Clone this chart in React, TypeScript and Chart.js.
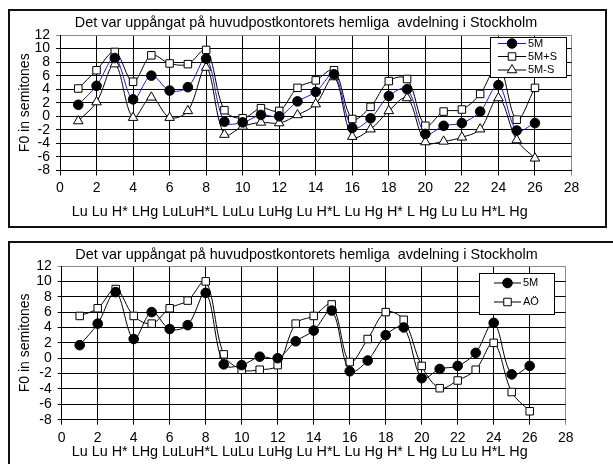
import React, { useEffect, useRef } from 'react';
import { Chart, registerables } from 'chart.js';

Chart.register(...registerables);

const FONT = '"Liberation Sans", Arial, sans-serif';

const chartTitle = 'Det var uppångat på huvudpostkontorets hemliga  avdelning i Stockholm';
const xAxisTitle = 'Lu Lu H* LHg LuLuH*L LuLu LuHg Lu H*L Lu Hg H* L Hg Lu Lu H*L Hg';
const yAxisTitle = 'F0 in semitones';

const positions = [1, 2, 3, 4, 5, 6, 7, 8, 9, 10, 11, 12, 13, 14, 15, 16, 17, 18, 19, 20, 21, 22, 23, 24, 25, 26];

const series5M = [1.7, 4.5, 8.6, 2.5, 6.0, 3.8, 4.3, 8.5, -0.8, -0.9, 0.2, 0.0, 2.2, 3.6, 6.2, -1.7, -0.3, 3.0, 4.0, -2.6, -1.4, -1.0, 0.7, 4.6, -2.1, -1.0];
const series5MplusS = [4.1, 6.8, 9.5, 5.1, 9.0, 7.8, 7.7, 9.8, 0.9, -0.3, 1.2, 0.8, 4.2, 5.3, 6.8, -0.4, 1.4, 5.2, 5.5, -1.4, 0.7, 1.0, 3.3, 7.6, -0.5, 4.2];
const series5MminusS = [-0.7, 2.1, 7.7, -0.2, 2.8, -0.2, 0.8, 7.2, -2.7, -1.5, -0.9, -1.0, 0.2, 1.8, 5.8, -3.0, -1.9, 0.8, 2.7, -3.8, -3.7, -3.1, -1.9, 2.7, -3.5, -6.2];
const seriesAO = [5.5, 6.5, 9.0, 5.5, 4.5, 6.5, 7.5, 10.0, 0.5, -1.5, -1.5, -0.9, 4.5, 5.5, 7.0, -0.5, 2.5, 6.0, 5.0, -1.0, -3.9, -2.9, -1.5, 2.0, -4.4, -6.9];

const topLabels = ['5M', '5M+S', '5M-S'];
const bottomLabels = ['5M', 'AÖ'];

const toPoints = (vals: number[]) => vals.map((v, i) => ({ x: positions[i], y: v }));

function drawMarker(ctx: CanvasRenderingContext2D, style: string, r: number, x: number, y: number) {
  ctx.beginPath();
  if (style === 'circle') {
    ctx.arc(x, y, r, 0, Math.PI * 2);
  } else if (style === 'rect') {
    const s = r * Math.SQRT1_2;
    ctx.rect(x - s, y - s, 2 * s, 2 * s);
  } else if (style === 'triangle') {
    let rad = 0;
    ctx.moveTo(x + Math.sin(rad) * r, y - Math.cos(rad) * r);
    rad += (2 * Math.PI) / 3;
    ctx.lineTo(x + Math.sin(rad) * r, y - Math.cos(rad) * r);
    rad += (2 * Math.PI) / 3;
    ctx.lineTo(x + Math.sin(rad) * r, y - Math.cos(rad) * r);
    ctx.closePath();
  }
  ctx.fill();
  ctx.stroke();
}

type LegendCfg = { box: [number, number, number, number]; rows: number[]; lineX0: number; lineX1: number; markX: number; textX: number };

const boxLegend = (cfg: LegendCfg) => ({
  id: 'boxLegend',
  afterDatasetsDraw(chart: any) {
    const ctx: CanvasRenderingContext2D = chart.ctx;
    ctx.save();
    const [bx, by, bw, bh] = cfg.box;
    ctx.fillStyle = '#fff';
    ctx.fillRect(bx, by, bw, bh);
    ctx.strokeStyle = '#000';
    ctx.lineWidth = 1;
    ctx.strokeRect(bx + 0.5, by + 0.5, bw, bh);
    chart.data.datasets.forEach((ds: any, i: number) => {
      const y = cfg.rows[i];
      ctx.strokeStyle = ds.borderColor;
      ctx.lineWidth = 1;
      ctx.beginPath();
      ctx.moveTo(cfg.lineX0, y);
      ctx.lineTo(cfg.lineX1, y);
      ctx.stroke();
      ctx.fillStyle = ds.pointBackgroundColor;
      ctx.strokeStyle = ds.pointBorderColor;
      drawMarker(ctx, ds.pointStyle, ds.pointRadius, cfg.markX, y);
      ctx.fillStyle = '#000';
      ctx.font = `11px ${FONT}`;
      ctx.textBaseline = 'middle';
      ctx.textAlign = 'left';
      ctx.fillText(ds.label, cfg.textX, y);
    });
    ctx.restore();
  },
});

type Opts = {
  height: number;
  datasets: any[];
  titlePadTop: number;
  titlePadBottom: number;
  xHeight: number;
  xTickPad: number;
  xTitlePadBottom: number;
  xTitleSpaces: number;
  yWidth: number;
  yTitlePadTop: number;
  rightWidth: number;
  padRight: number;
  legend: LegendCfg;
};

function buildConfig(o: Opts): any {
  const font = { family: FONT, size: 14, weight: 'normal' as const };
  const bigFont = { family: FONT, size: 14.4, weight: 'normal' as const };
  return {
    type: 'line',
    data: { datasets: o.datasets },
    options: {
      animation: false,
      responsive: false,
      devicePixelRatio: 1,
      layout: { padding: { left: 0, right: o.padRight, top: 0, bottom: 0 } },
      plugins: {
        legend: { display: false },
        tooltip: { enabled: false },
        title: {
          display: true,
          text: chartTitle,
          color: '#000',
          font: bigFont,
          padding: { top: o.titlePadTop, bottom: o.titlePadBottom },
        },
      },
      scales: {
        x: {
          type: 'linear',
          min: 0,
          max: 28,
          ticks: { stepSize: 2, padding: o.xTickPad, color: '#000', font, maxRotation: 0, autoSkip: false },
          grid: {
            color: (c: any) => (c.tick && c.tick.value === 28 ? '#8a8a8a' : '#000'),
            lineWidth: 1,
            tickLength: 5,
          },
          border: { color: '#000', width: 1 },
          title: {
            display: true,
            text: xAxisTitle + ' '.repeat(o.xTitleSpaces),
            color: '#000',
            font: bigFont,
            padding: { top: 0, bottom: o.xTitlePadBottom },
          },
          afterFit: (s: any) => {
            s.height = o.xHeight;
          },
        },
        y: {
          type: 'linear',
          min: -8,
          max: 12,
          ticks: { stepSize: 2, padding: 6, color: '#000', font, autoSkip: false },
          grid: {
            color: (c: any) => (c.tick && c.tick.value === 12 ? '#8a8a8a' : '#000'),
            lineWidth: 1,
            tickLength: 4,
          },
          border: { color: '#000', width: 1 },
          title: {
            display: true,
            text: yAxisTitle,
            color: '#000',
            font,
            padding: { top: o.yTitlePadTop, bottom: 0 },
          },
          afterFit: (s: any) => {
            s.width = o.yWidth;
          },
        },
        yr: {
          type: 'linear',
          position: 'right',
          display: true,
          grid: { display: false, drawTicks: false },
          border: { display: false },
          ticks: { display: false },
          afterFit: (s: any) => {
            s.width = o.rightWidth;
          },
        },
      },
    },
    plugins: [boxLegend(o.legend)],
  };
}

function makeDataset(label: string, vals: number[], style: string, color: string, radius: number, filled: boolean) {
  return {
    label,
    data: toPoints(vals),
    yAxisID: 'y',
    xAxisID: 'x',
    borderColor: color,
    borderWidth: 1,
    tension: 0.35,
    fill: false,
    pointStyle: style,
    pointRadius: radius,
    pointBorderWidth: 1,
    pointBackgroundColor: filled ? '#000' : '#fff',
    pointBorderColor: '#000',
  };
}

function ChartCanvas({ top, opts }: { top: number; opts: Opts }) {
  const ref = useRef<HTMLCanvasElement | null>(null);
  useEffect(() => {
    if (!ref.current) return;
    const chart = new Chart(ref.current, buildConfig(opts));
    return () => chart.destroy();
  }, []);
  return (
    <canvas
      ref={ref}
      width={613}
      height={opts.height}
      style={{ position: 'absolute', left: 0, top, width: 613, height: opts.height }}
    />
  );
}

export default function App() {
  const topOpts: Opts = {
    height: 232,
    datasets: [
      makeDataset(topLabels[0], series5M, 'circle', '#1a1ad8', 4.8, true),
      makeDataset(topLabels[1], series5MplusS, 'rect', '#000', 5.3, false),
      makeDataset(topLabels[2], series5MminusS, 'triangle', '#000', 5.5, false),
    ],
    titlePadTop: 14.36,
    titlePadBottom: 3.36,
    xHeight: 61.5,
    xTickPad: 4,
    xTitlePadBottom: 11.36,
    xTitleSpaces: 8,
    yWidth: 60,
    yTitlePadTop: 16.6,
    rightWidth: 40.5,
    padRight: 1,
    legend: { box: [490, 37, 76, 40], rows: [43.5, 56.5, 70], lineX0: 498, lineX1: 526, markX: 512, textX: 528 },
  };
  const bottomOpts: Opts = {
    height: 232,
    datasets: [
      makeDataset(bottomLabels[0], series5M, 'circle', '#000', 4.8, true),
      makeDataset(bottomLabels[1], seriesAO, 'rect', '#000', 5.3, false),
    ],
    titlePadTop: 14.36,
    titlePadBottom: 2.36,
    xHeight: 44.3,
    xTickPad: 5,
    xTitlePadBottom: 2.86,
    xTitleSpaces: 7,
    yWidth: 61.7,
    yTitlePadTop: 16.6,
    rightWidth: 47.3,
    padRight: 0,
    legend: { box: [479, 41, 75, 41], rows: [51, 70], lineX0: 494, lineX1: 521, markX: 507.5, textX: 523 },
  };
  return (
    <div style={{ position: 'fixed', left: 0, top: 0, width: 613, height: 464, overflow: 'hidden', background: '#fff' }}>
      <ChartCanvas top={0} opts={topOpts} />
      <ChartCanvas top={232} opts={bottomOpts} />
      <div style={{ position: 'absolute', left: 8, top: 9, width: 599, height: 219, boxSizing: 'border-box', border: '2px solid #111', pointerEvents: 'none' }} />
      <div style={{ position: 'absolute', left: 8, top: 241, width: 700, height: 300, boxSizing: 'border-box', border: '2px solid #111', pointerEvents: 'none' }} />
    </div>
  );
}
